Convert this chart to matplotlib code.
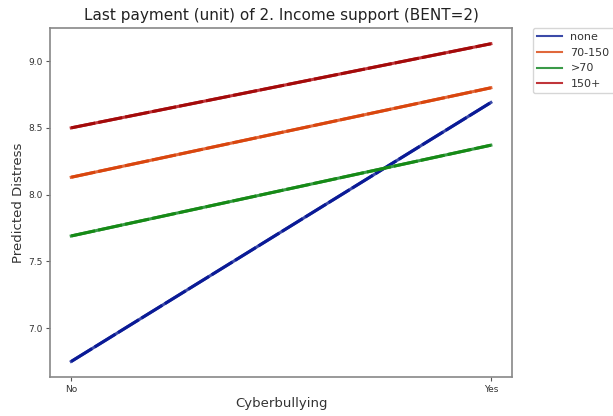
import matplotlib
matplotlib.use("Agg")
import matplotlib.pyplot as plt

# Predicted distress by cyberbullying and last payment group
x_labels = ["No", "Yes"]
groups = ["none", "70-150", ">70", "150+"]
pred_none = [6.75, 8.69]
pred_70_150 = [8.13, 8.80]
pred_lt70 = [7.69, 8.37]
pred_150p = [8.50, 9.13]
series = [pred_none, pred_70_150, pred_lt70, pred_150p]

legend_colors = ["#3b4aa8", "#e0683c", "#3a9a48", "#c0353a"]
line_colors = ["#0a1a96", "#d9460e", "#168a16", "#a30a0a"]

fig = plt.figure(figsize=(6.13, 4.16), dpi=100)
ax = fig.add_axes([0.082, 0.093, 0.753, 0.840])

xs = list(range(len(x_labels)))
for name, vals, lc, dc in zip(groups, series, legend_colors, line_colors):
    ax.plot(xs, vals, color=lc, linewidth=2.2, label=name)
    ax.plot(xs, vals, color=dc, linewidth=2.2, linestyle=(0, (8, 1)))

ax.set_xticks(xs)
ax.set_xticklabels(x_labels)
ax.set_yticks([7.0, 7.5, 8.0, 8.5, 9.0])
ax.tick_params(labelsize=6.5, length=3, pad=2.5, color="#555555", labelcolor="#333333")
for sp in ax.spines.values():
    sp.set_color("#888888")
    sp.set_linewidth(1.2)

ax.set_xlabel("Cyberbullying", fontsize=9.5, color="#333333", labelpad=2)
ax.set_ylabel("Predicted Distress", fontsize=9.5, color="#333333", labelpad=2)
ax.set_title("Last payment (unit) of 2. Income support (BENT=2)", fontsize=11, color="#222222")

leg = ax.legend(loc="upper left", bbox_to_anchor=(1.045, 1.0), borderaxespad=0,
                fontsize=8, handlelength=2.2)
for line in leg.get_lines():
    line.set_linewidth(1.5)
for t in leg.get_texts():
    t.set_color("#333333")

fig.savefig("out.png", dpi=100)
